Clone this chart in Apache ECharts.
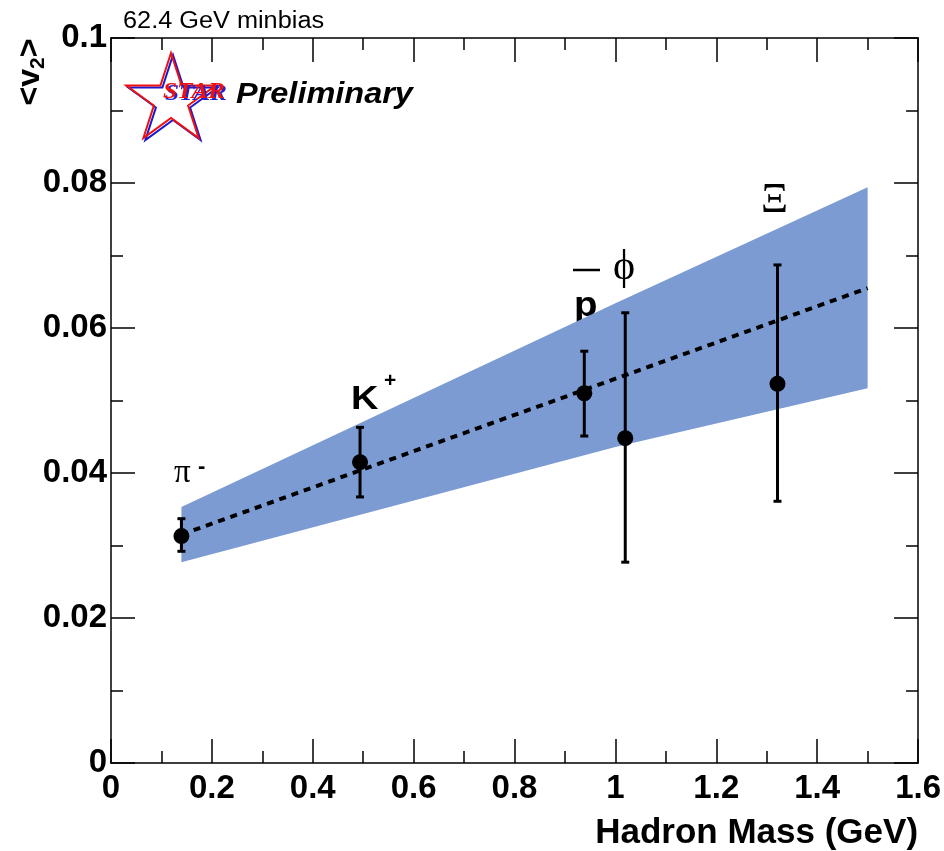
<!DOCTYPE html>
<html>
<head>
<meta charset="utf-8">
<script src="https://cdn.jsdelivr.net/npm/echarts@6/dist/echarts.min.js"></script>
<style>
  html, body { margin: 0; padding: 0; background: #fff; }
  #main { width: 944px; height: 851px; }
</style>
</head>
<body>
<div id="main"></div>
<script>
var main = document.getElementById('main');

// hadron masses (GeV) and <v2> with error bar ends
var particles = ['pi-', 'K+', 'pbar', 'phi', 'Xi'];
var mass = [0.1396, 0.4937, 0.9383, 1.0195, 1.3213];
var v2 = [0.0313, 0.0415, 0.0510, 0.0448, 0.0523];
var v2Low = [0.0292, 0.0367, 0.0451, 0.0277, 0.0361];
var v2High = [0.0337, 0.0463, 0.0568, 0.0621, 0.0687];

// systematic band and the dotted fit line
var bandX = [0.1396, 1.0, 1.5];
var bandLow = [0.0277, 0.0436, 0.0517];
var bandHigh = [0.0353, 0.0634, 0.0794];
var fitX = [0.1396, 1.5];
var fitY = [0.0315, 0.0655];

var xTicks = { min: 0, max: 1.6, interval: 0.2 };
var yTicks = { min: 0, max: 0.1, interval: 0.02 };

var fontSans = 'Liberation Sans, Arial, sans-serif';
var fontSerif = 'Liberation Serif, Times New Roman, serif';

var pointData = mass.map(function (m, i) { return [m, v2[i]]; });
var errData = mass.map(function (m, i) { return [m, v2Low[i], v2High[i]]; });
var fitData = fitX.map(function (x, i) { return [x, fitY[i]]; });
var bandData = bandX.map(function (x, i) { return [x, bandLow[i], bandHigh[i]]; });

function starPoints(cx, cy, R, r) {
    var pts = [];
    for (var i = 0; i < 10; i++) {
        var a = -Math.PI / 2 + i * Math.PI / 5;
        var rad = i % 2 === 0 ? R : r;
        pts.push([cx + rad * Math.cos(a), cy + rad * Math.sin(a)]);
    }
    return pts;
}

var axisCommon = {
    axisLine: { show: true, onZero: false, lineStyle: { color: '#000', width: 1.5 } },
    axisTick: { show: true, inside: true, length: 24, lineStyle: { color: '#000', width: 1.5 } },
    minorTick: { show: true, splitNumber: 2, length: 12, lineStyle: { color: '#000', width: 1.5 } },
    splitLine: { show: false },
    minorSplitLine: { show: false }
};

var myChart = echarts.init(main);
myChart.setOption({
    animation: false,
    backgroundColor: '#fff',
    grid: { left: 111, right: 25, top: 38, bottom: 88 },
    xAxis: [
        Object.assign({
            type: 'value', position: 'bottom',
            min: xTicks.min, max: xTicks.max, interval: xTicks.interval,
            axisLabel: { color: '#000', fontFamily: fontSans, fontWeight: 'bold', fontSize: 33, margin: 9 },
            name: 'Hadron Mass (GeV)',
            nameLocation: 'end',
            nameGap: 0,
            nameTextStyle: {
                color: '#000', fontFamily: fontSans, fontWeight: 'bold', fontSize: 35,
                align: 'right', verticalAlign: 'top', padding: [53, 0, 0, 0]
            }
        }, axisCommon),
        Object.assign({
            type: 'value', position: 'top',
            min: xTicks.min, max: xTicks.max, interval: xTicks.interval,
            axisLabel: { show: false }
        }, axisCommon)
    ],
    yAxis: [
        Object.assign({
            type: 'value', position: 'left',
            min: yTicks.min, max: yTicks.max, interval: yTicks.interval,
            axisLabel: { color: '#000', fontFamily: fontSans, fontWeight: 'bold', fontSize: 33, margin: 4 }
        }, axisCommon),
        Object.assign({
            type: 'value', position: 'right',
            min: yTicks.min, max: yTicks.max, interval: yTicks.interval,
            axisLabel: { show: false }
        }, axisCommon)
    ],
    series: [
        {
            type: 'custom',
            name: 'band',
            z: 1,
            data: bandData,
            renderItem: function (params, api) {
                if (params.dataIndex !== 0) return;
                var upper = [], lower = [];
                for (var i = 0; i < bandData.length; i++) {
                    upper.push(api.coord([bandData[i][0], bandData[i][2]]));
                    lower.unshift(api.coord([bandData[i][0], bandData[i][1]]));
                }
                return {
                    type: 'polygon',
                    shape: { points: upper.concat(lower) },
                    style: { fill: '#7b9bd2', stroke: null }
                };
            },
            silent: true
        },
        {
            type: 'line',
            name: 'fit',
            z: 2,
            data: fitData,
            symbol: 'none',
            lineStyle: { color: '#000', width: 4, type: [7, 6] },
            silent: true
        },
        {
            type: 'custom',
            name: 'errors',
            z: 3,
            data: errData,
            renderItem: function (params, api) {
                var lo = api.coord([api.value(0), api.value(1)]);
                var hi = api.coord([api.value(0), api.value(2)]);
                var cap = 4;
                var st = { stroke: '#000', lineWidth: 3 };
                return {
                    type: 'group',
                    children: [
                        { type: 'line', shape: { x1: lo[0], y1: lo[1], x2: hi[0], y2: hi[1] }, style: st },
                        { type: 'line', shape: { x1: lo[0] - cap, y1: lo[1], x2: lo[0] + cap, y2: lo[1] }, style: st },
                        { type: 'line', shape: { x1: hi[0] - cap, y1: hi[1], x2: hi[0] + cap, y2: hi[1] }, style: st }
                    ]
                };
            },
            silent: true
        },
        {
            type: 'scatter',
            name: 'v2',
            z: 4,
            data: pointData,
            symbol: 'circle',
            symbolSize: 16,
            itemStyle: { color: '#000', opacity: 1 },
            silent: true
        }
    ],
    graphic: [
        { type: 'text', x: 123, y: 33, scaleX: 1.1,
          style: { text: '62.4 GeV minbias', fill: '#000', font: '23px ' + fontSans, verticalAlign: 'bottom' } },
        { type: 'text', x: 30, y: 72, rotation: Math.PI / 2,
          style: {
              text: '<v{s|2}>', fill: '#000', font: 'bold 32px ' + fontSans,
              align: 'center', verticalAlign: 'middle',
              rich: { s: { font: 'bold 21px ' + fontSans, fill: '#000', padding: [16, 0, 0, 0] } }
          } },
        // STAR Preliminary logo
        { type: 'polygon', shape: { points: starPoints(173, 102, 47, 18) },
          style: { fill: null, stroke: '#1a1acc', lineWidth: 2 } },
        { type: 'polygon', shape: { points: starPoints(171, 100, 47, 18) },
          style: { fill: null, stroke: '#ee1111', lineWidth: 2 } },
        { type: 'text', x: 165, y: 106, scaleX: 1.1,
          style: { text: 'STAR', fill: '#2222cc', font: 'italic bold 23px ' + fontSerif, verticalAlign: 'bottom' } },
        { type: 'text', x: 163, y: 104, scaleX: 1.1,
          style: { text: 'STAR', fill: '#ee1111', font: 'italic bold 23px ' + fontSerif, verticalAlign: 'bottom' } },
        { type: 'text', x: 236, y: 109, scaleX: 1.12,
          style: { text: 'Preliminary', fill: '#000', font: 'italic bold 29px ' + fontSans, verticalAlign: 'bottom' } },
        // particle labels
        { type: 'text', x: 174, y: 490,
          style: { text: 'π', fill: '#000', font: '33px ' + fontSerif, verticalAlign: 'bottom' } },
        { type: 'text', x: 198, y: 478,
          style: { text: '-', fill: '#000', font: 'bold 22px ' + fontSans, verticalAlign: 'bottom' } },
        { type: 'text', x: 351, y: 416, scaleX: 1.15,
          style: { text: 'K', fill: '#000', font: 'bold 33px ' + fontSans, verticalAlign: 'bottom' } },
        { type: 'text', x: 384, y: 392,
          style: { text: '+', fill: '#000', font: 'bold 21px ' + fontSans, verticalAlign: 'bottom' } },
        { type: 'text', x: 574, y: 324, scaleX: 1.1,
          style: { text: 'p', fill: '#000', font: 'bold 35px ' + fontSans, verticalAlign: 'bottom' } },
        { type: 'line', shape: { x1: 573, y1: 270, x2: 600, y2: 270 },
          style: { stroke: '#000', lineWidth: 2.5 } },
        { type: 'text', x: 613, y: 289,
          style: { text: 'ϕ', fill: '#000', font: '42px ' + fontSerif, verticalAlign: 'bottom' } },
        { type: 'text', x: 761, y: 222,
          style: { text: 'Ξ', fill: '#000', font: '42px ' + fontSerif, verticalAlign: 'bottom' } }
    ]
});
</script>
</body>
</html>
